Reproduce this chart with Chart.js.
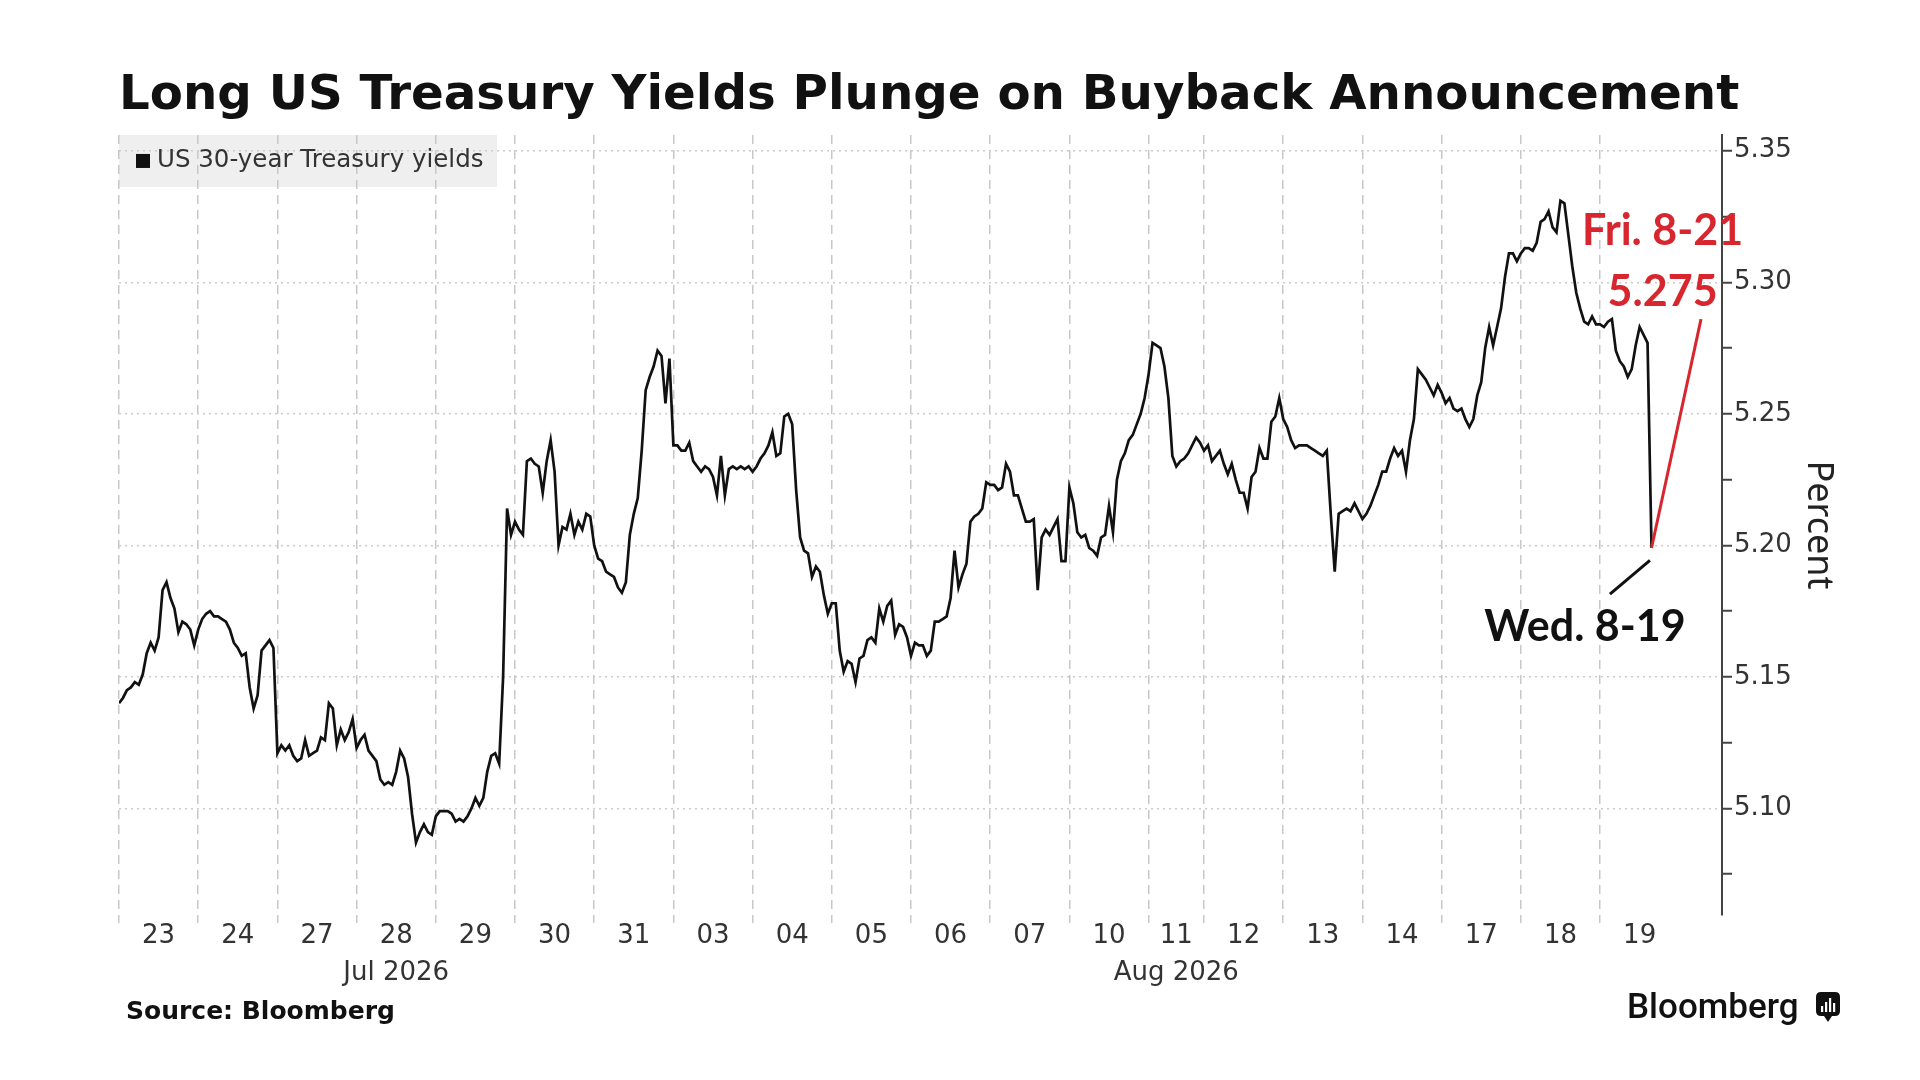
<!DOCTYPE html>
<html>
<head>
<meta charset="utf-8">
<script src="https://cdn.jsdelivr.net/npm/chart.js@4.4.1/dist/chart.umd.min.js"></script>
<style>
html,body{margin:0;padding:0;background:#fff;}
#wrap{width:1920px;height:1080px;position:relative;}
canvas{display:block;}
</style>
</head>
<body>
<div id="wrap"><canvas id="c" width="1920" height="1080"></canvas></div>
<script>
// ---------------- DATA ----------------
const chartTitle = 'Long US Treasury Yields Plunge on Buyback Announcement';
const seriesName = 'US 30-year Treasury yields';
const dayLabels = ['23','24','27','28','29','30','31','03','04','05','06','07','10','11','12','13','14','17','18','19'];
const monthNames = ['Jul 2026', 'Aug 2026'];
const monthAtDay = [3, 13];           // index of the day label under which the month is written
const yTickValues = [5.10, 5.15, 5.20, 5.25, 5.30, 5.35];

// intraday yields, one row per session (equal time buckets); null = not yet traded
const jul23 = [5.140,5.142,5.145,5.146,5.148,5.147,5.151,5.159,5.163,5.160,5.165,5.183,5.186,5.180,5.176,5.167,5.171,5.170,5.168,5.162];
const jul24 = [5.168,5.172,5.174,5.175,5.173,5.173,5.172,5.171,5.168,5.163,5.161,5.158,5.159,5.146,5.138,5.143,5.160,5.162,5.164,5.161];
const jul27 = [5.121,5.124,5.122,5.124,5.120,5.118,5.119,5.126,5.120,5.121,5.122,5.127,5.126,5.140,5.138,5.124,5.130,5.126,5.129,5.134];
const jul28 = [5.123,5.126,5.128,5.122,5.120,5.118,5.111,5.109,5.110,5.109,5.114,5.122,5.119,5.112,5.098,5.087,5.091,5.094,5.091,5.090];
const jul29 = [5.097,5.099,5.099,5.099,5.098,5.095,5.096,5.095,5.097,5.100,5.104,5.101,5.104,5.114,5.120,5.121,5.117,5.150,5.214,5.204];
const jul30 = [5.209,5.206,5.204,5.232,5.233,5.231,5.230,5.220,5.232,5.240,5.228,5.200,5.207,5.206,5.212,5.204,5.209,5.206,5.212,5.211];
const jul31 = [5.200,5.195,5.194,5.190,5.189,5.188,5.184,5.182,5.186,5.204,5.212,5.218,5.236,5.259,5.264,5.268,5.274,5.272,5.254,5.271];
const aug03 = [5.238,5.238,5.236,5.236,5.239,5.232,5.230,5.228,5.230,5.229,5.226,5.219,5.234,5.219,5.229,5.230,5.229,5.230,5.229,5.230];
const aug04 = [5.228,5.230,5.233,5.235,5.238,5.243,5.234,5.235,5.249,5.250,5.246,5.221,5.203,5.198,5.197,5.188,5.192,5.190,5.181,5.174];
const aug05 = [5.178,5.178,5.160,5.152,5.156,5.155,5.148,5.157,5.158,5.164,5.165,5.163,5.176,5.171,5.177,5.179,5.166,5.170,5.169,5.165];
const aug06 = [5.158,5.163,5.162,5.162,5.158,5.160,5.171,5.171,5.172,5.173,5.180,5.198,5.184,5.189,5.193,5.209,5.211,5.212,5.214,5.224];
const aug07 = [5.223,5.223,5.221,5.222,5.231,5.228,5.219,5.219,5.214,5.209,5.209,5.210,5.183,5.203,5.206,5.204,5.207,5.210,5.194,5.194];
const aug10 = [5.222,5.216,5.205,5.203,5.204,5.199,5.198,5.196,5.203,5.204,5.215,5.205,5.225,5.232,5.235,5.240,5.242,5.246,5.250,5.256];
const aug11 = [5.265,5.277,5.276,5.275,5.268,5.256,5.234,5.230,5.232,5.233,5.235,5.238,5.241,5.239];
const aug12 = [5.236,5.238,5.232,5.234,5.236,5.231,5.227,5.231,5.225,5.220,5.220,5.214,5.226,5.228,5.237,5.233,5.233,5.247,5.249,5.256];
const aug13 = [5.248,5.245,5.240,5.237,5.238,5.238,5.238,5.237,5.236,5.235,5.234,5.236,5.212,5.190,5.212,5.213,5.214,5.213,5.216,5.213];
const aug14 = [5.210,5.212,5.215,5.219,5.223,5.228,5.228,5.233,5.237,5.234,5.236,5.228,5.240,5.248,5.267,5.265,5.263,5.260,5.257,5.261];
const aug17 = [5.258,5.254,5.256,5.252,5.251,5.252,5.248,5.245,5.248,5.257,5.262,5.275,5.283,5.276,5.283,5.290,5.302,5.311,5.311,5.308];
const aug18 = [5.311,5.313,5.313,5.312,5.315,5.323,5.324,5.327,5.321,5.319,5.331,5.330,5.318,5.306,5.296,5.290,5.285,5.284,5.287,5.284];
const aug19 = [5.284,5.283,5.285,5.286,5.274,5.270,5.268,5.264,5.267,5.276,5.283,5.280,5.277,5.199,null,null,null,null,null,null];
const sessions = [jul23,jul24,jul27,jul28,jul29,jul30,jul31,aug03,aug04,aug05,aug06,aug07,aug10,aug11,aug12,aug13,aug14,aug17,aug18,aug19];

// hand-drawn annotations (data space: bucket index, yield)
const projectionX = [387, 399.5];
const projectionY = [5.199, 5.286];
const pointerX = [376.5, 386.6];
const pointerY = [5.1815, 5.1943];
const calloutText = ['Fri. 8-21', '5.275', 'Wed. 8-19'];
const calloutX = [389.8, 389.8, 370.2];
const calloutY = [5.3200, 5.2970, 5.1695];
const calloutRed = [true, true, false];

// ---------------- BUILD ----------------
const points = [];
const dayStart = [];
const dayCenter = [];
let pos = 0;
sessions.forEach(row => {
  dayStart.push(pos);
  dayCenter.push(pos + row.length / 2);
  row.forEach((v, i) => points.push({x: pos + i, y: v}));
  pos += row.length;
});
const xMax = pos + 10.8;
const startSet = new Set(dayStart);
const labelFor = new Map();
dayCenter.forEach((c, i) => {
  const m = monthAtDay.indexOf(i);
  labelFor.set(c, m >= 0 ? [dayLabels[i], monthNames[m]] : dayLabels[i]);
});
const xTickValues = [...dayStart, ...dayCenter].sort((a, b) => a - b);
const isMajor = v => yTickValues.some(t => Math.abs(t - v) < 1e-6);

const RED = '#d7262e';
const INK = '#111111';

const decorations = {
  id: 'decorations',
  beforeDraw(chart) {
    const ctx = chart.ctx, a = chart.chartArea;
    ctx.save();
    ctx.fillStyle = '#efefef';
    ctx.fillRect(a.left, a.top, 378, 52);
    ctx.restore();
  },
  afterDraw(chart) {
    const ctx = chart.ctx, a = chart.chartArea;
    const xs = chart.scales.x, ys = chart.scales.y;
    ctx.save();
    // legend
    ctx.fillStyle = '#111';
    ctx.fillRect(a.left + 17, a.top + 19, 14, 14);
    ctx.fillStyle = '#333';
    ctx.font = '24.5px "DejaVu Sans"';
    ctx.textBaseline = 'middle';
    ctx.textAlign = 'left';
    ctx.fillText(seriesName, a.left + 38, a.top + 26);
    // callouts
    ctx.font = 'bold 43px Lato';
    ctx.textAlign = 'center';
    ctx.textBaseline = 'alphabetic';
    calloutText.forEach((t, i) => {
      ctx.fillStyle = calloutRed[i] ? RED : INK;
      ctx.fillText(t, xs.getPixelForValue(calloutX[i]), ys.getPixelForValue(calloutY[i]) + 15.5);
    });
    // footer
    ctx.textAlign = 'left';
    ctx.fillStyle = '#111';
    ctx.font = 'bold 25px "DejaVu Sans"';
    ctx.fillText('Source: Bloomberg', 126, 1019);
    ctx.font = '500 35px Roboto';
    ctx.fillText('Bloomberg', 1627, 1018);
    // logo mark
    const lx = 1816, ly = 992, lw = 24, lh = 24, r = 5;
    ctx.beginPath();
    ctx.moveTo(lx + r, ly);
    ctx.lineTo(lx + lw - r, ly);
    ctx.quadraticCurveTo(lx + lw, ly, lx + lw, ly + r);
    ctx.lineTo(lx + lw, ly + lh - r);
    ctx.quadraticCurveTo(lx + lw, ly + lh, lx + lw - r, ly + lh);
    ctx.lineTo(lx + lw / 2 + 4, ly + lh);
    ctx.lineTo(lx + lw / 2, ly + lh + 6);
    ctx.lineTo(lx + lw / 2 - 4, ly + lh);
    ctx.lineTo(lx + r, ly + lh);
    ctx.quadraticCurveTo(lx, ly + lh, lx, ly + lh - r);
    ctx.lineTo(lx, ly + r);
    ctx.quadraticCurveTo(lx, ly, lx + r, ly);
    ctx.closePath();
    ctx.fill();
    ctx.fillStyle = '#fff';
    [[5, 14], [9, 10], [13, 6], [17, 11]].forEach(([bx, bt]) => ctx.fillRect(lx + bx, ly + bt, 2.2, lh - 4 - bt));
    ctx.restore();
  }
};

new Chart(document.getElementById('c'), {
  type: 'line',
  data: {
    datasets: [
      {
        label: seriesName,
        data: points,
        borderColor: INK,
        borderWidth: 2.7,
        pointRadius: 0,
        tension: 0,
        spanGaps: false,
        order: 3
      },
      {
        label: 'projection',
        data: projectionX.map((x, i) => ({x, y: projectionY[i]})),
        borderColor: RED,
        borderWidth: 3,
        pointRadius: 0,
        order: 2
      },
      {
        label: 'pointer',
        data: pointerX.map((x, i) => ({x, y: pointerY[i]})),
        borderColor: INK,
        borderWidth: 3,
        pointRadius: 0,
        order: 1
      }
    ]
  },
  options: {
    responsive: false,
    animation: false,
    devicePixelRatio: 1,
    layout: {padding: {top: 60, left: 119, right: 0, bottom: 0}},
    plugins: {
      legend: {display: false},
      tooltip: {enabled: false},
      title: {
        display: true,
        text: chartTitle,
        align: 'start',
        color: INK,
        font: {family: 'DejaVu Sans', weight: 'bold', size: 48.3},
        padding: {top: 7, bottom: 10}
      }
    },
    scales: {
      x: {
        type: 'linear',
        position: 'bottom',
        min: 0,
        max: xMax,
        afterBuildTicks: s => { s.ticks = xTickValues.map(v => ({value: v})); },
        afterFit: s => { s.height = 165; },
        border: {display: false, dash: [9, 6]},
        grid: {
          color: c => (c.tick && startSet.has(c.tick.value)) ? '#c8c8c8' : 'rgba(0,0,0,0)',
          lineWidth: 1.5,
          drawTicks: true,
          tickLength: 8,
          tickBorderDash: [9, 6]
        },
        ticks: {
          autoSkip: false,
          maxRotation: 0,
          minRotation: 0,
          padding: -5,
          color: '#333',
          font: {family: 'DejaVu Sans', size: 26, lineHeight: 1.42},
          callback: v => labelFor.has(v) ? labelFor.get(v) : ''
        }
      },
      y: {
        type: 'linear',
        position: 'right',
        min: 5.0595,
        max: 5.356,
        afterFit: s => { s.width = 198; },
        border: {display: true, color: '#444', width: 2, dash: [2, 4]},
        grid: {
          color: c => (c.tick && isMajor(c.tick.value)) ? '#cccccc' : 'rgba(0,0,0,0)',
          lineWidth: 1.5,
          drawTicks: true,
          tickLength: 10,
          tickColor: '#444',
          tickWidth: 2,
          tickBorderDash: []
        },
        ticks: {
          stepSize: 0.025,
          includeBounds: false,
          maxTicksLimit: 40,
          autoSkip: false,
          padding: 2,
          color: '#333',
          font: {family: 'DejaVu Sans', size: 26},
          callback: v => isMajor(v) ? v.toFixed(2) : ''
        },
        title: {
          display: true,
          text: 'Percent',
          color: '#222',
          font: {family: 'Noto Sans', size: 36},
          padding: {top: 80, bottom: 0}
        }
      }
    }
  },
  plugins: [decorations]
});
</script>
</body>
</html>
